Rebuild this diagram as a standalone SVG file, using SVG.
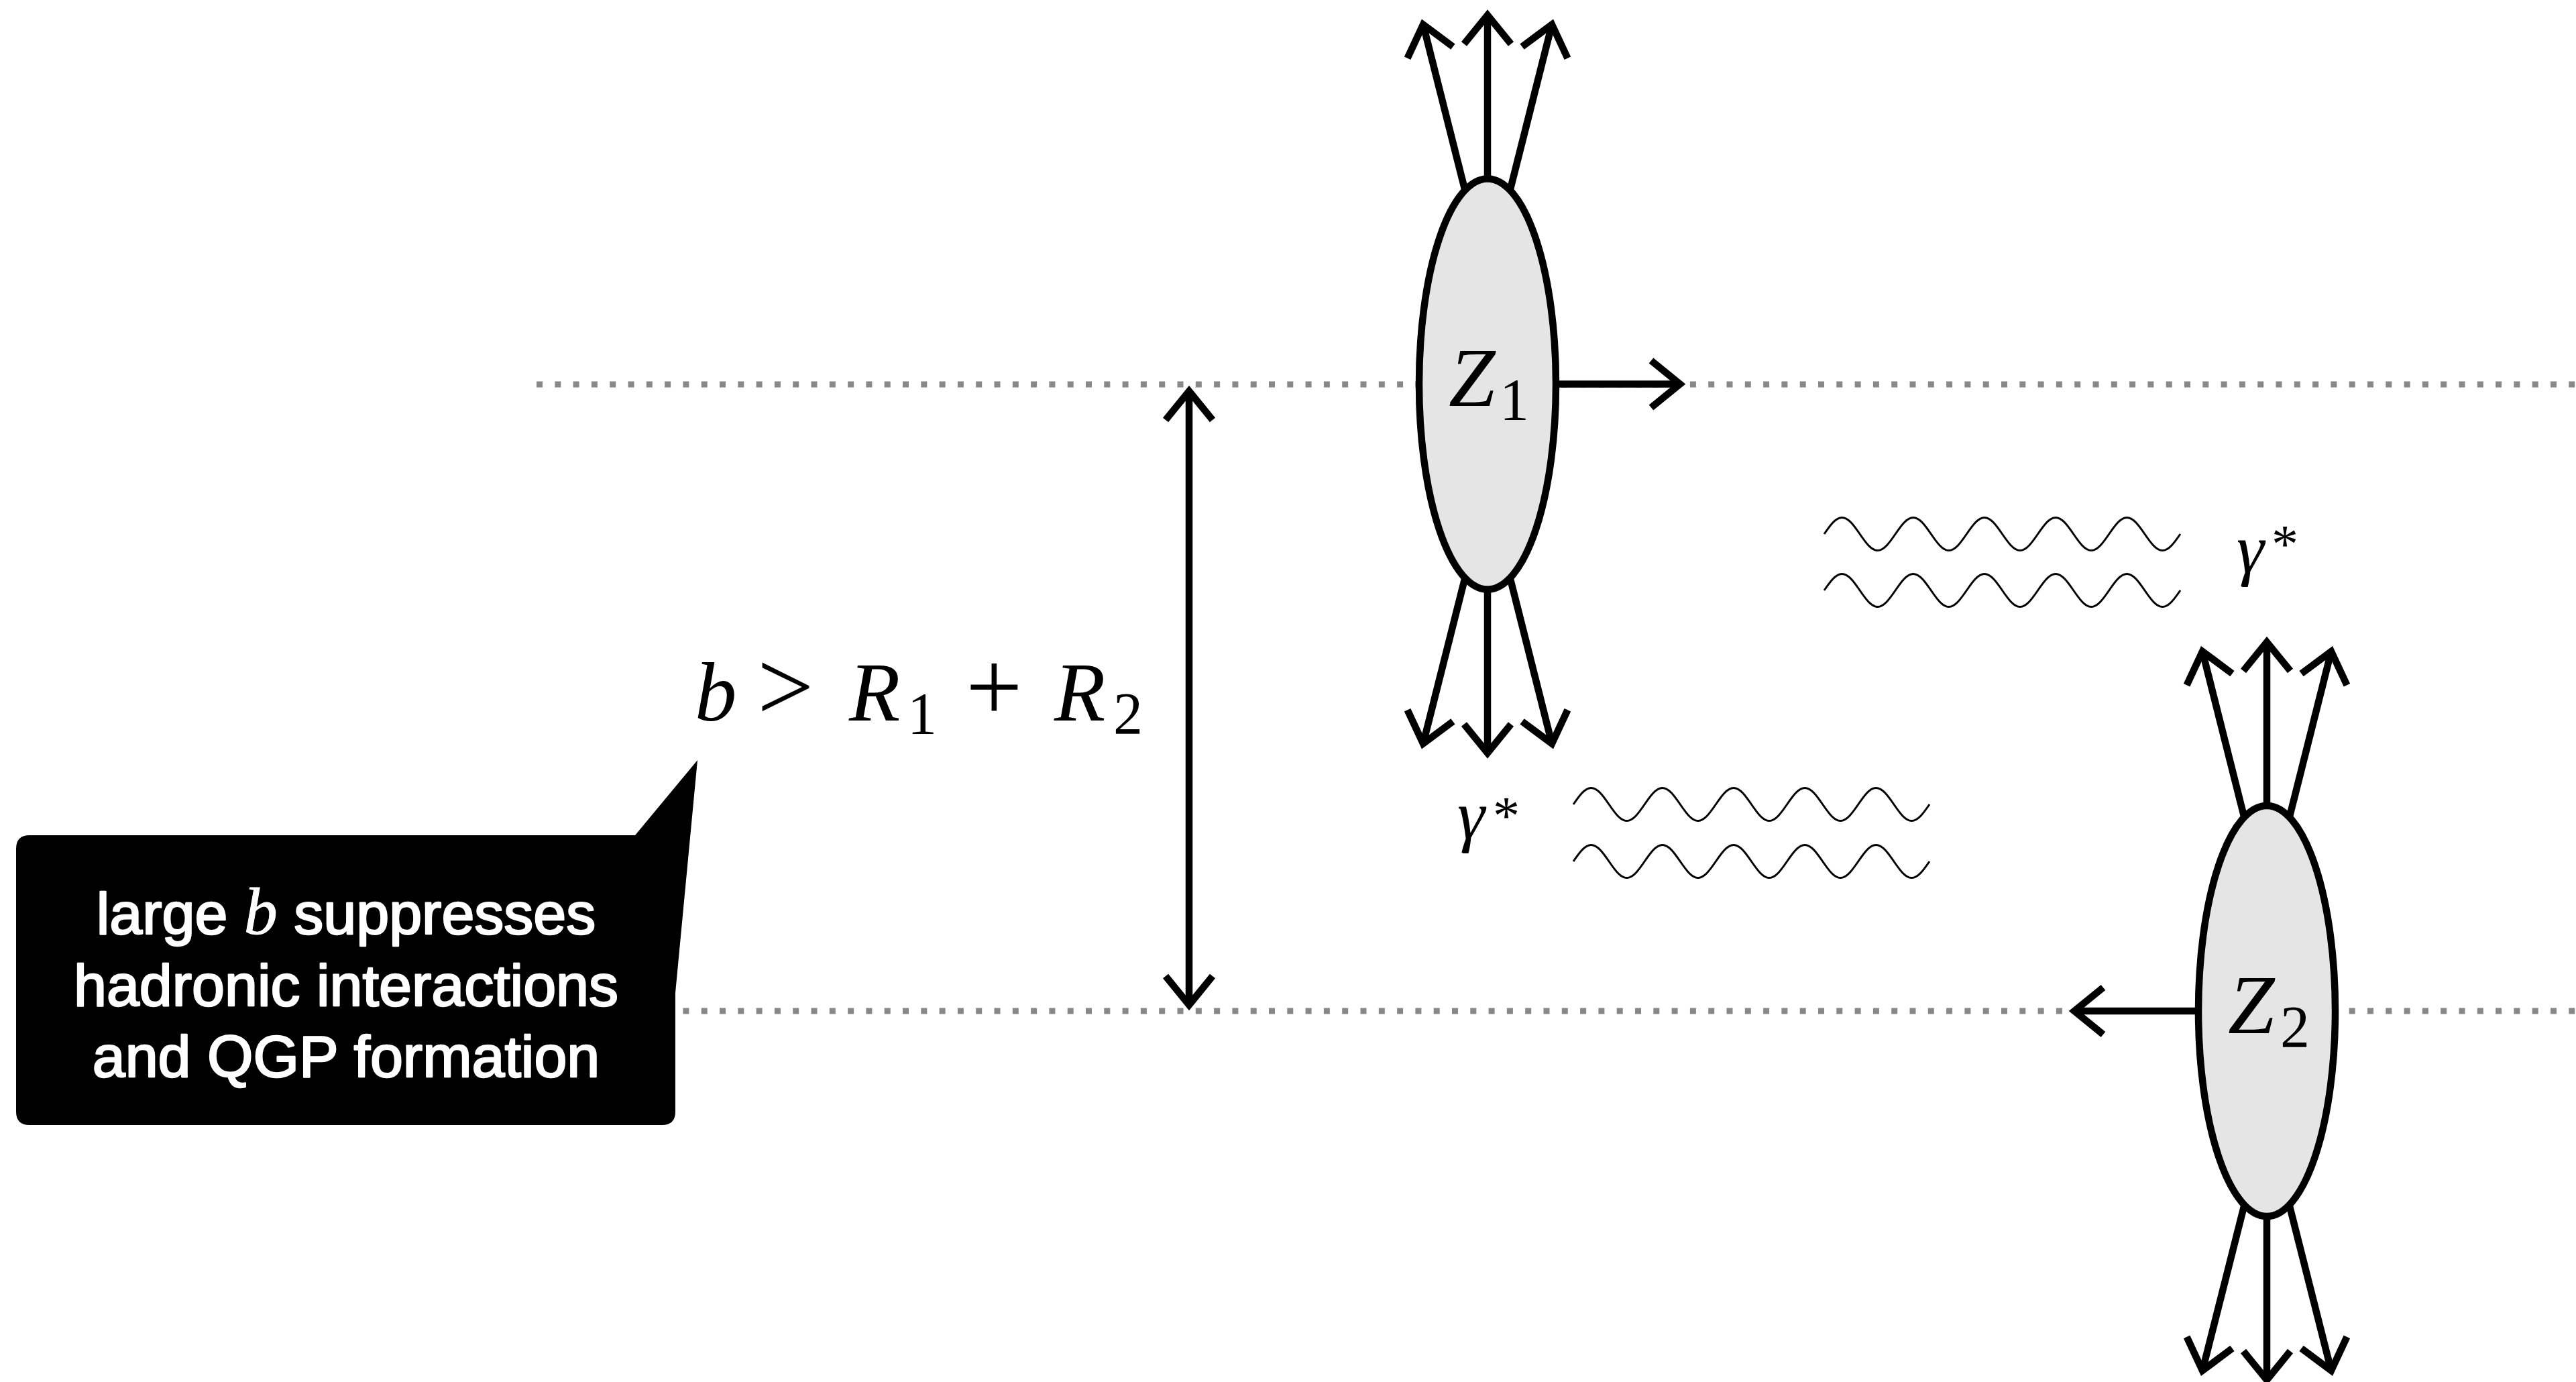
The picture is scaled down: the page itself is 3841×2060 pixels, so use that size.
<svg xmlns="http://www.w3.org/2000/svg" width="3841" height="2060" viewBox="0 0 3841 2060">
<defs>
<style>
.dot{stroke:#888888;stroke-width:9;stroke-dasharray:9 18.3;fill:none}
.arr{stroke:#000;stroke-width:10.5;fill:none;marker-end:url(#chev)}
.dbl{stroke:#000;stroke-width:10.5;fill:none;marker-end:url(#chev);marker-start:url(#chevs)}
.nuc{fill:#e5e5e5;stroke:#000;stroke-width:10.5}
.wave{fill:none;stroke:#000;stroke-width:3}
.m{font-family:"Liberation Serif","Times New Roman",serif;fill:#000}
.it{font-style:italic}
.box{fill:#000}
.bt{font-family:"Liberation Sans",Arial,sans-serif;font-size:88px;fill:#fff;stroke:#fff;stroke-width:2.5;stroke-linejoin:round}
.bi{font-family:"Liberation Serif","Times New Roman",serif;font-style:italic;font-size:100px;stroke-width:1}
</style>
<marker id="chev" markerUnits="userSpaceOnUse" orient="auto" refX="0" refY="0" markerWidth="100" markerHeight="100" viewBox="-60 -50 80 100" overflow="visible">
<path d="M-43,-35 L0,0 L-43,35" fill="none" stroke="#000" stroke-width="10.5" stroke-linejoin="miter"/>
</marker>
<marker id="chevs" markerUnits="userSpaceOnUse" orient="auto-start-reverse" refX="0" refY="0" markerWidth="100" markerHeight="100" viewBox="-60 -50 80 100" overflow="visible">
<path d="M-43,-35 L0,0 L-43,35" fill="none" stroke="#000" stroke-width="10.5" stroke-linejoin="miter"/>
</marker>
<path id="wv" d="M0,0 c8.66,-12.56 16.98,-24.5 26.55,-24.5 s17.89,11.94 26.55,24.5 s16.98,24.5 26.55,24.5 s17.89,-11.94 26.55,-24.5 s16.98,-24.5 26.55,-24.5 s17.89,11.94 26.55,24.5 s16.98,24.5 26.55,24.5 s17.89,-11.94 26.55,-24.5 s16.98,-24.5 26.55,-24.5 s17.89,11.94 26.55,24.5 s16.98,24.5 26.55,24.5 s17.89,-11.94 26.55,-24.5 s16.98,-24.5 26.55,-24.5 s17.89,11.94 26.55,24.5 s16.98,24.5 26.55,24.5 s17.89,-11.94 26.55,-24.5 s16.98,-24.5 26.55,-24.5 s17.89,11.94 26.55,24.5 s16.98,24.5 26.55,24.5 s17.89,-11.94 26.55,-24.5"/>
</defs>
<rect width="3841" height="2060" fill="#fff"/>

<g id="beamlines">
<path class="dot" d="M800,573 H3841"/>
<path class="dot" d="M800,1507 H3841"/>
</g>

<g id="connectors">
<path class="dbl" d="M1773,583 V1498"/>
<path class="arr" d="M2218,300 V22.5"/>
<path class="arr" d="M2186,290 L2122,36.5"/>
<path class="arr" d="M2250,290 L2314,36.5"/>
<path class="arr" d="M2218,850 V1122.5"/>
<path class="arr" d="M2186,855 L2122,1108.5"/>
<path class="arr" d="M2250,855 L2314,1108.5"/>
<path class="arr" d="M2300,572.5 H2505"/>
<path class="arr" d="M3380,1230 V957"/>
<path class="arr" d="M3348,1225 L3284,971"/>
<path class="arr" d="M3412,1225 L3476,971"/>
<path class="arr" d="M3380,1790 V2057"/>
<path class="arr" d="M3348,1790 L3284,2043"/>
<path class="arr" d="M3412,1790 L3476,2043"/>
<path class="arr" d="M3300,1507 H3093"/>
</g>

<g id="nucleus-Z1">
<ellipse class="nuc" cx="2218" cy="572.5" rx="102" ry="306"/>
<text class="m" y="605"><tspan class="it" x="2160" font-size="125">Z</tspan><tspan x="2236" y="625" font-size="88">1</tspan></text>
</g>

<g id="nucleus-Z2">
<ellipse class="nuc" cx="3380" cy="1507" rx="102" ry="306"/>
<text class="m" y="1540"><tspan class="it" x="3322" font-size="125">Z</tspan><tspan x="3400" y="1560" font-size="88">2</tspan></text>
</g>

<g id="photons-upper">
<use href="#wv" class="wave" x="2720" y="796"/>
<use href="#wv" class="wave" x="2720" y="880"/>
<text class="m" y="853"><tspan class="it" x="3335" font-size="104">γ</tspan><tspan x="3387" y="838" font-size="80">*</tspan></text>
</g>

<g id="photons-lower">
<use href="#wv" class="wave" x="2346" y="1199"/>
<use href="#wv" class="wave" x="2346" y="1284"/>
<text class="m" y="1250"><tspan class="it" x="2173" font-size="104">γ</tspan><tspan x="2226" y="1243" font-size="80">*</tspan></text>
</g>

<g id="impact-label">
<text class="m" y="1074"><tspan class="it" x="1036" font-size="125">b</tspan><tspan x="1129" font-size="150">&gt;</tspan><tspan class="it" x="1266" font-size="125">R</tspan><tspan x="1353" y="1093" font-size="88">1</tspan><tspan x="1440" y="1074" font-size="150">+</tspan><tspan class="it" x="1572" font-size="125">R</tspan><tspan x="1660" y="1093" font-size="88">2</tspan></text>
</g>

<g id="callout">
<path class="box" d="M44,1245 H947 L1040,1133 L1007,1480 V1657 Q1007,1677 987,1677 H44 Q24,1677 24,1657 V1265 Q24,1245 44,1245 Z"/>
<text class="bt" x="516" y="1392" text-anchor="middle">large <tspan class="bi">b</tspan> suppresses</text>
<text class="bt" x="516" y="1499" text-anchor="middle">hadronic interactions</text>
<text class="bt" x="516" y="1605" text-anchor="middle">and QGP formation</text>
</g>
</svg>
